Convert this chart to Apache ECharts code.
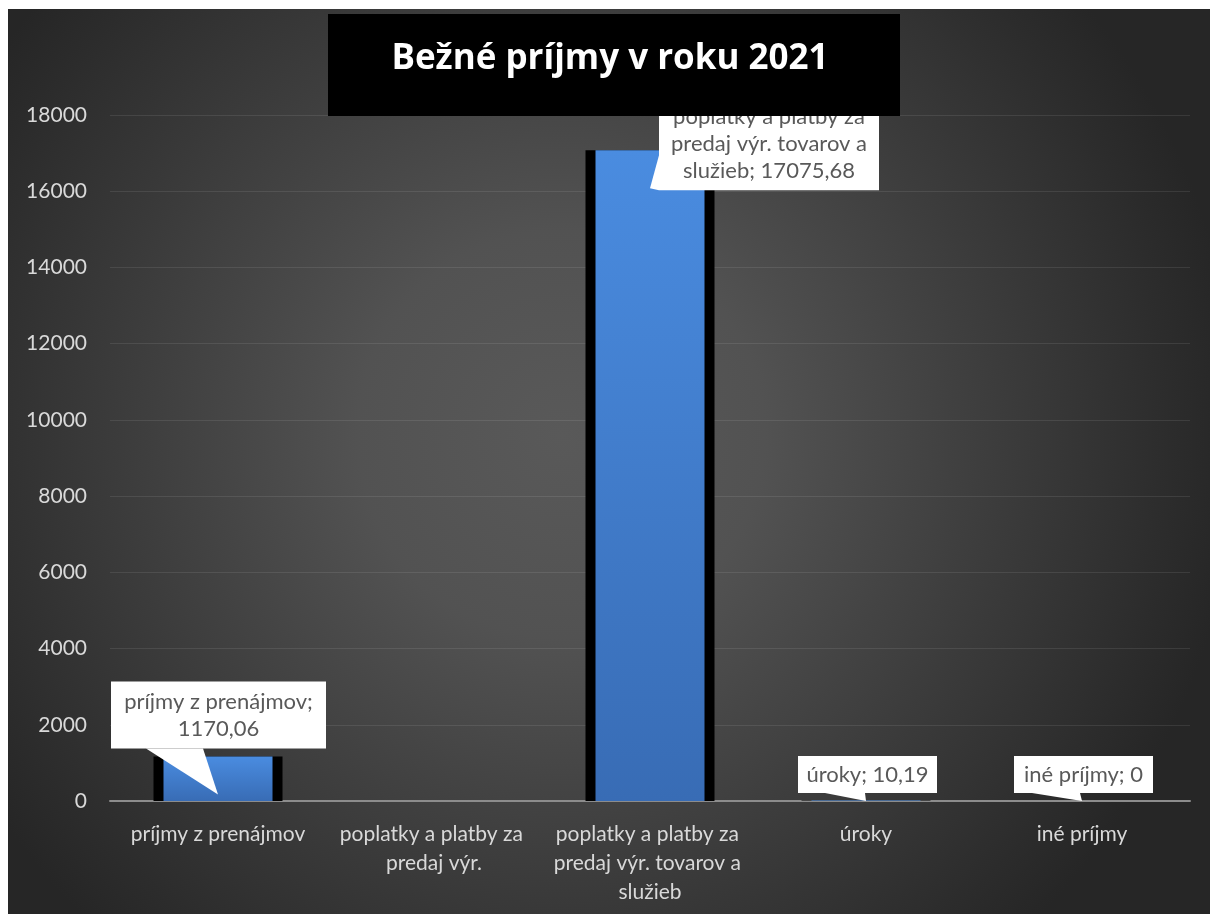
<!DOCTYPE html>
<html><head><meta charset="utf-8">
<script src="https://cdn.jsdelivr.net/npm/echarts@6/dist/echarts.min.js"></script>
<style>html,body{margin:0;padding:0;background:#fff;}#c{position:absolute;left:8px;top:9px;width:1202px;height:905px;}</style>
</head><body><div id="c"></div>
<script>
// ---- data ----
const titleText = 'Bežné príjmy v roku 2021';
const categories = [
  'príjmy z prenájmov',
  'poplatky a platby za predaj výr.',
  'poplatky a platby za predaj výr. tovarov a služieb',
  'úroky',
  'iné príjmy'
];
const values = [1170.06, null, 17075.68, 10.19, 0];
const yMin = 0, yMax = 18000, yInterval = 2000;

// ---- callout styles (relative to the pointer tip) ----
const calloutStyle = [
  {dx: 0.5, dy: -79.5, w: 215, h: 67, wedge: [[-72, -46], [-15, -46]]},
  null,
  {dx: 119, dy: -44, w: 220, h: 92, wedge: [[9, -33], [9, 2]]},
  {dx: 1.5, dy: -26.5, w: 139, h: 37, wedge: [[-41, -8], [-1, -8]]},
  {dx: 1.5, dy: -26.5, w: 139, h: 37, wedge: [[-50, -8], [-2, -8]]}
];
const FONT = 'Lato';
const CALLOUT_SIZE = 22;
const fmt = v => String(v).replace('.', ',');

const measureCtx = document.createElement('canvas').getContext('2d');
function wrapWords(text, maxW, font) {
  measureCtx.font = font;
  const words = text.split(' ');
  const lines = [];
  let cur = '';
  words.forEach(w => {
    const test = cur ? cur + ' ' + w : w;
    if (cur && measureCtx.measureText(test).width > maxW) { lines.push(cur); cur = w; }
    else cur = test;
  });
  if (cur) lines.push(cur);
  return lines.join('\n');
}

function renderCallout(params, api) {
  const i = api.value(0);
  const v = api.value(1);
  const st = calloutStyle[i];
  if (!st || v == null || isNaN(v)) return null;
  const top = api.coord([i, v]);
  const base = api.coord([i, 0]);
  const tip = [top[0], Math.min(top[1] + 38, base[1])];
  const cx = tip[0] + st.dx, cy = tip[1] + st.dy;
  const text = wrapWords(categories[i] + '; ' + fmt(v), st.w - 4, CALLOUT_SIZE + 'px ' + FONT);
  return {
    type: 'group',
    children: [
      {type: 'rect', shape: {x: cx - st.w / 2, y: cy - st.h / 2, width: st.w, height: st.h}, style: {fill: '#fff'}},
      {type: 'polygon', shape: {points: [
        [tip[0] + st.wedge[0][0], tip[1] + st.wedge[0][1]],
        tip,
        [tip[0] + st.wedge[1][0], tip[1] + st.wedge[1][1]]
      ]}, style: {fill: '#fff'}},
      {type: 'text', x: cx, y: cy, style: {
        text: text, align: 'center', verticalAlign: 'middle',
        fill: '#595959', fontSize: CALLOUT_SIZE, fontFamily: FONT, lineHeight: 27
      }}
    ]
  };
}

function render() {
  const chart = echarts.init(document.getElementById('c'), null, {renderer: 'canvas'});
  chart.setOption({
    animation: false,
    backgroundColor: new echarts.graphic.RadialGradient(0.46, 0.47, 0.75, [
      {offset: 0, color: '#595959'},
      {offset: 0.3, color: '#525252'},
      {offset: 0.9, color: '#2c2c2c'},
      {offset: 1, color: '#262626'}
    ]),
    grid: {left: 102, right: 20, top: 106, bottom: 113, containLabel: false, outerBoundsMode: 'none'},
    xAxis: [
      {
        type: 'category', data: categories,
        axisTick: {show: false},
        axisLine: {lineStyle: {color: '#8c8c8c', width: 2}},
        axisLabel: {color: '#d9d9d9', fontSize: 21, fontFamily: FONT, lineHeight: 29, margin: 19,
                    interval: 0, width: 212, overflow: 'break'}
      },
      {type: 'category', data: categories, show: false}
    ],
    yAxis: {
      type: 'value', min: yMin, max: yMax, interval: yInterval,
      axisLine: {show: false}, axisTick: {show: false},
      axisLabel: {color: '#d9d9d9', fontSize: 21, fontFamily: FONT, margin: 23, formatter: v => String(v)},
      splitLine: {lineStyle: {color: 'rgba(255,255,255,0.09)', width: 1}}
    },
    series: [
      {type: 'bar', xAxisIndex: 0, data: values, barWidth: 129, itemStyle: {color: '#000'}, silent: true, z: 2},
      {type: 'bar', xAxisIndex: 1, data: values, barWidth: 109, z: 3,
       itemStyle: {color: new echarts.graphic.LinearGradient(0, 0, 0, 1, [
         {offset: 0, color: '#4a8ce0'}, {offset: 1, color: '#386cb5'}
       ])}},
      {type: 'custom', xAxisIndex: 0, data: values.map((v, i) => [i, v]), renderItem: renderCallout, z: 5}
    ],
    graphic: [
      {type: 'rect', left: 320, top: 5, shape: {width: 572, height: 102}, style: {fill: '#000'}, z: 100},
      {type: 'text', x: 602, y: 50, style: {text: titleText, fill: '#fff', fontSize: 35, fontWeight: 'bold',
        fontFamily: '"Open Sans"', align: 'center', verticalAlign: 'middle'}, z: 101}
    ]
  });
}
if (document.fonts && document.fonts.load) {
  Promise.all([document.fonts.load('22px Lato'), document.fonts.load('bold 35px "Open Sans"')]).then(render, render);
} else render();
</script></body></html>
